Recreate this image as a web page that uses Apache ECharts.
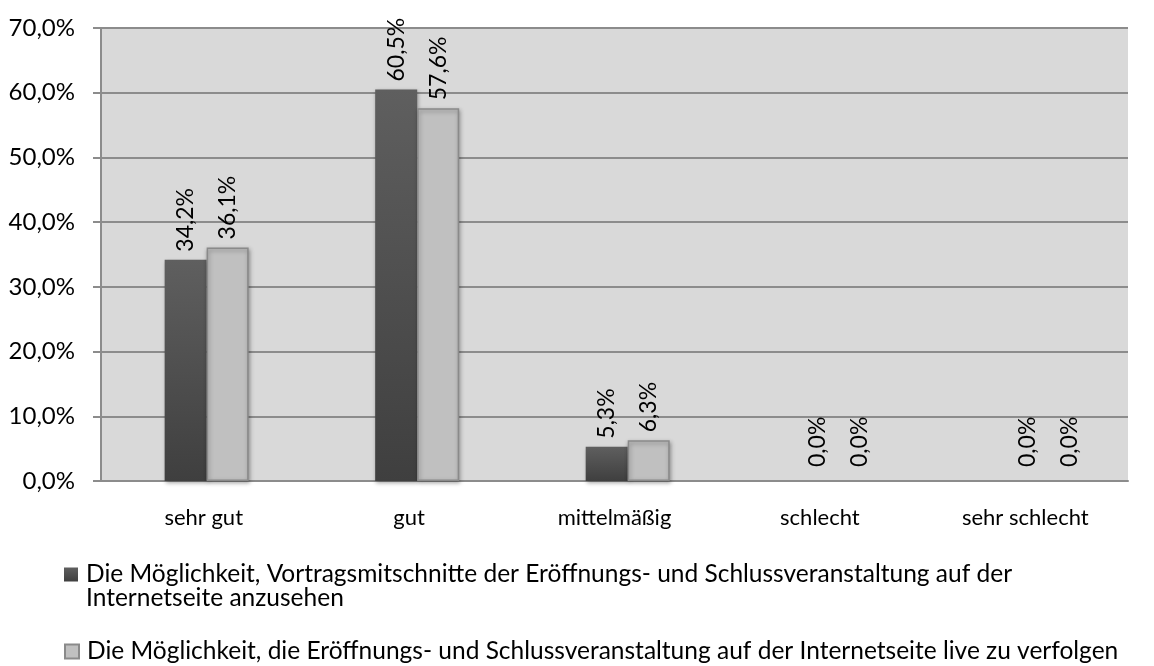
<!DOCTYPE html>
<html>
<head>
<meta charset="utf-8">
<script src="https://cdn.jsdelivr.net/npm/echarts@6/dist/echarts.min.js"></script>
<style>
  html, body { margin: 0; padding: 0; background: #fff; }
  #chart { width: 1154px; height: 666px; }
</style>
</head>
<body>
<div id="chart"></div>
<script>
// Kategorien und Werte (in Prozent)
var categories = ["sehr gut", "gut", "mittelmäßig", "schlecht", "sehr schlecht"];
var mitschnitte = [34.2, 60.5, 5.3, 0.0, 0.0];
var live = [36.1, 57.6, 6.3, 0.0, 0.0];
var seriesNames = [
  "Die Möglichkeit, Vortragsmitschnitte der Eröffnungs- und Schlussveranstaltung auf der Internetseite anzusehen",
  "Die Möglichkeit, die Eröffnungs- und Schlussveranstaltung auf der Internetseite live zu verfolgen"
];
var yTicks = [0, 10, 20, 30, 40, 50, 60, 70];

var font = "Lato";
var fs = 23;
var pct = function(v) {
  return Number(v).toFixed(1).replace(".", ",") + "%";
};

var myChart = echarts.init(document.getElementById("chart"));

var darkFill = new echarts.graphic.LinearGradient(0, 0, 0, 1, [
  { offset: 0, color: "#5f5f5f" },
  { offset: 1, color: "#3f3f3f" }
]);

var barLabel = {
  show: true,
  position: "top",
  rotate: 90,
  align: "left",
  verticalAlign: "middle",
  distance: 8,
  fontFamily: font,
  fontSize: fs,
  color: "#000",
  formatter: function(p) {
    return pct(p.value);
  }
};

var barShadow = {
  shadowColor: "rgba(0,0,0,0.35)",
  shadowBlur: 4,
  shadowOffsetX: 1,
  shadowOffsetY: 2
};

// Nullwerte: kein sichtbarer Balken, Beschriftung etwas höher
function toBarData(arr) {
  return arr.map(function(v) {
    if (v === 0) {
      return {
        value: v,
        itemStyle: {
          color: "rgba(0,0,0,0)",
          borderWidth: 0,
          shadowColor: "rgba(0,0,0,0)"
        },
        label: { distance: 14 }
      };
    }
    return v;
  });
}

var option = {
  animation: false,
  textStyle: { fontFamily: font },
  grid: [
    {
      left: 101,
      right: 26,
      top: 28,
      bottom: 185,
      show: true,
      backgroundColor: "#d9d9d9",
      borderWidth: 0
    },
    {
      // Balken liegen im Original leicht versetzt
      left: 101.4,
      right: -3.9,
      top: 28,
      bottom: 185
    }
  ],
  legend: [
    {
      orient: "vertical",
      left: 59,
      top: 533,
      icon: "rect",
      itemWidth: 14,
      itemHeight: 14,
      data: [seriesNames[0]],
      formatter: function() {
        return "\nDie Möglichkeit, Vortragsmitschnitte der Eröffnungs- und Schlussveranstaltung auf der\nInternetseite anzusehen";
      },
      textStyle: {
        fontFamily: font,
        fontSize: 24.5,
        color: "#000",
        lineHeight: 24,
        padding: [0, 0, 0, 3]
      },
      itemStyle: { shadowBlur: 0, shadowOffsetX: 0, shadowOffsetY: 0 }
    },
    {
      orient: "vertical",
      left: 59,
      top: 634,
      icon: "rect",
      itemWidth: 14,
      itemHeight: 14,
      data: [seriesNames[1]],
      textStyle: {
        fontFamily: font,
        fontSize: 24.5,
        color: "#000",
        lineHeight: 24,
        padding: [0, 0, 0, 3]
      },
      itemStyle: { shadowBlur: 0, shadowOffsetX: 0, shadowOffsetY: 0 }
    }
  ],
  xAxis: [
    {
      type: "category",
      gridIndex: 0,
      data: categories,
      axisTick: { show: false },
      axisLine: { lineStyle: { color: "#8c8c8c", width: 2 } },
      axisLabel: {
        margin: 26,
        fontFamily: font,
        fontSize: 22,
        color: "#000"
      }
    },
    {
      type: "category",
      gridIndex: 1,
      data: categories,
      show: false
    }
  ],
  yAxis: [
    {
      type: "value",
      gridIndex: 0,
      min: yTicks[0],
      max: yTicks[yTicks.length - 1],
      interval: 10,
      axisLine: { show: true, lineStyle: { color: "#8c8c8c", width: 2 } },
      axisTick: { show: true, length: 8, lineStyle: { color: "#8c8c8c", width: 2 } },
      splitLine: { lineStyle: { color: "#8c8c8c", width: 2 } },
      axisLabel: {
        margin: 26,
        fontFamily: font,
        fontSize: 24,
        color: "#000",
        formatter: function(v) {
          return pct(v);
        }
      }
    },
    {
      type: "value",
      gridIndex: 1,
      min: yTicks[0],
      max: yTicks[yTicks.length - 1],
      interval: 10,
      show: false,
      splitLine: { show: false }
    }
  ],
  series: [
    {
      name: seriesNames[0],
      type: "bar",
      xAxisIndex: 1,
      yAxisIndex: 1,
      data: toBarData(mitschnitte),
      barWidth: 42,
      barGap: "0%",
      itemStyle: Object.assign({ color: darkFill, borderWidth: 0 }, barShadow),
      label: barLabel
    },
    {
      name: seriesNames[1],
      type: "bar",
      xAxisIndex: 1,
      yAxisIndex: 1,
      data: toBarData(live),
      barWidth: 42,
      barGap: "0%",
      itemStyle: Object.assign({ color: "#c0c0c0", borderColor: "#8a8a8a", borderWidth: 1.5 }, barShadow),
      label: barLabel
    }
  ]
};

myChart.setOption(option);
</script>
</body>
</html>
